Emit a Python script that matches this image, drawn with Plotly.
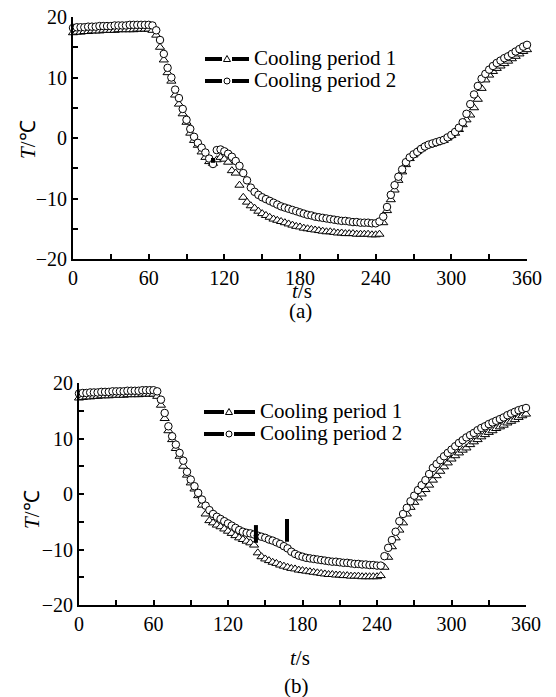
import plotly.graph_objects as go

t = list(range(0, 361, 3))

# Panel (a)
a_period1 = [17.4, 17.5, 17.5, 17.6, 17.6, 17.7, 17.7, 17.7, 17.8, 17.8,
             17.8, 17.8, 17.9, 17.9, 17.9, 17.9, 17.9, 18.0, 18.0, 18.0,
             18.0, 17.8, 17.0, 15.0, 12.9, 10.8, 9.4, 7.1, 5.6, 4.0,
             2.6, 0.8, -0.4, -1.2, -2.3, -3.2, -3.9, -4.2, -3.6, -3.2,
             -3.5, -4.0, -5.4, -5.8, -7.8, -9.8, -10.6, -11.2, -11.6, -12.1,
             -12.5, -12.8, -13.1, -13.4, -13.6, -13.8, -14.0, -14.2, -14.4, -14.6,
             -14.7, -14.9, -15.0, -15.1, -15.2, -15.3, -15.4, -15.5, -15.5, -15.6,
             -15.7, -15.7, -15.8, -15.8, -15.8, -15.9, -15.9, -15.9, -15.9, -16.0,
             -16.0, -15.9, -14.0, -12.0, -10.2, -8.6, -7.0, -5.6, -4.4, -3.4,
             -2.8, -2.2, -1.8, -1.4, -1.2, -1.0, -0.8, -0.6, -0.4, 0.0,
             0.4, 0.8, 1.4, 2.2, 3.0, 3.8, 5.0, 6.4, 8.2, 9.6,
             10.4, 11.0, 11.5, 11.9, 12.3, 12.7, 13.1, 13.5, 13.9, 14.3,
             14.6]
a_period2 = [18.2, 18.3, 18.3, 18.3, 18.4, 18.4, 18.4, 18.5, 18.5, 18.5,
             18.5, 18.6, 18.6, 18.6, 18.6, 18.7, 18.7, 18.7, 18.7, 18.7,
             18.7, 18.6, 17.8, 16.2, 13.9, 11.6, 10.0, 8.0, 6.6, 4.8,
             3.0, 1.5, 0.2, -0.8, -1.6, -2.4, -3.4, -4.3, -2.0, -1.9,
             -2.2, -2.6, -3.1, -3.8, -4.6, -5.8, -7.0, -8.2, -8.9, -9.4,
             -9.8, -10.1, -10.4, -10.7, -11.0, -11.3, -11.5, -11.7, -11.9, -12.1,
             -12.3, -12.5, -12.7, -12.8, -13.0, -13.1, -13.2, -13.3, -13.4, -13.5,
             -13.6, -13.7, -13.7, -13.8, -13.9, -13.9, -14.0, -14.0, -14.0, -14.1,
             -14.1, -13.8, -13.0, -11.4, -9.4, -7.8, -6.4, -5.2, -4.0, -3.2,
             -2.7, -2.3, -1.8, -1.4, -1.1, -0.9, -0.7, -0.5, -0.3, 0.1,
             0.5, 1.0, 1.7, 2.6, 4.0, 5.6, 7.2, 8.6, 9.8, 10.6,
             11.3, 11.9, 12.4, 12.8, 13.2, 13.5, 13.9, 14.3, 14.7, 15.1,
             15.4]

# Panel (b)
b_period1 = [17.3, 17.4, 17.5, 17.5, 17.6, 17.6, 17.7, 17.7, 17.7, 17.8,
             17.8, 17.8, 17.8, 17.9, 17.9, 17.9, 17.9, 18.0, 18.0, 18.0,
             18.0, 17.6, 16.0, 13.6, 11.4, 9.8, 8.2, 6.8, 5.0, 3.4,
             2.0, 0.9, -0.3, -2.0, -3.6, -4.8, -5.2, -5.6, -5.9, -6.3,
             -6.7, -7.1, -7.5, -7.9, -8.2, -8.5, -8.8, -9.2, -10.6, -11.3,
             -11.7, -12.0, -12.3, -12.5, -12.8, -13.0, -13.2, -13.4, -13.5, -13.7,
             -13.8, -13.9, -14.0, -14.1, -14.2, -14.3, -14.4, -14.5, -14.5, -14.6,
             -14.6, -14.7, -14.7, -14.8, -14.8, -14.8, -14.9, -14.9, -14.9, -14.9,
             -14.9, -14.7, -13.2, -11.4, -9.5, -7.9, -6.5, -5.2, -3.6, -2.4,
             -1.5, -0.7, 0.0, 0.8, 1.6, 2.5, 3.3, 4.1, 4.9, 5.6,
             6.3, 6.9, 7.4, 7.9, 8.3, 8.9, 9.4, 9.8, 10.3, 10.7,
             11.1, 11.4, 11.8, 12.1, 12.4, 12.8, 13.1, 13.4, 13.8, 14.1,
             14.4]
b_period2 = [18.1, 18.2, 18.2, 18.3, 18.3, 18.3, 18.4, 18.4, 18.4, 18.5,
             18.5, 18.5, 18.5, 18.6, 18.6, 18.6, 18.6, 18.7, 18.7, 18.7,
             18.7, 18.5, 17.0, 14.6, 12.2, 10.4, 8.9, 7.4, 6.0, 4.0,
             2.6, 1.4, 0.2, -1.0, -2.1, -2.9, -3.6, -4.1, -4.5, -4.9,
             -5.3, -5.7, -6.1, -6.5, -6.8, -7.0, -7.1, -7.3, -7.5, -7.7,
             -7.9, -8.2, -8.4, -8.7, -9.0, -9.4, -9.8, -10.4, -10.8, -11.1,
             -11.3, -11.5, -11.6, -11.7, -11.8, -11.9, -12.0, -12.1, -12.2, -12.2,
             -12.3, -12.4, -12.4, -12.5, -12.6, -12.6, -12.7, -12.7, -12.8, -12.8,
             -12.9, -12.9, -11.2, -9.7, -8.3, -6.8, -4.9, -3.6, -2.5, -1.3,
             -0.3, 0.7, 1.6, 2.5, 3.6, 4.7, 5.4, 6.1, 6.8, 7.4,
             8.0, 8.6, 9.2, 9.7, 10.2, 10.6, 11.0, 11.5, 11.9, 12.2,
             12.6, 12.9, 13.2, 13.5, 13.8, 14.2, 14.5, 14.8, 15.1, 15.3,
             15.5]

# small black artefact marks
a_mark_t = [111, 111]
a_mark_T = [-3.3, -4.1]
b_mark1_t = [142.5, 142.5]
b_mark1_T = [-5.6, -8.8]
b_mark2_t = [167.5, 167.5]
b_mark2_T = [-4.5, -8.6]

legend_names = ["Cooling period 1", "Cooling period 2"]
x_ticks = [0, 60, 120, 180, 240, 300, 360]
y_ticks = [-20, -10, 0, 10, 20]

FONT = "Liberation Serif"
W, H = 556, 697

fig = go.Figure()

cir = dict(symbol="circle", size=7.5, color="white", line=dict(width=1, color="black"))
tri_fill = dict(symbol="triangle-up", size=8, color="white", line=dict(width=1, color="black"))

for (xa, ya, s1, s2) in [("x", "y", a_period1, a_period2),
                         ("x2", "y2", b_period1, b_period2)]:
    fig.add_trace(go.Scatter(x=t, y=s1, mode="markers", marker=tri_fill, xaxis=xa, yaxis=ya,
                             name=legend_names[0], showlegend=False, cliponaxis=False))
    fig.add_trace(go.Scatter(x=t, y=s2, mode="markers", marker=cir, xaxis=xa, yaxis=ya,
                             name=legend_names[1], showlegend=False, cliponaxis=False))

for (xs, ys, xa, ya) in [(a_mark_t, a_mark_T, "x", "y"),
                         (b_mark1_t, b_mark1_T, "x2", "y2"),
                         (b_mark2_t, b_mark2_T, "x2", "y2")]:
    fig.add_trace(go.Scatter(x=xs, y=ys, mode="lines", line=dict(color="black", width=4),
                             xaxis=xa, yaxis=ya, showlegend=False))

axis_common = dict(showline=True, linecolor="black", linewidth=2, showgrid=False,
                   zeroline=False, ticks="inside", ticklen=5, tickwidth=1.5, tickcolor="black",
                   tickfont=dict(family=FONT, size=20, color="black"), mirror=False,
                   automargin=False)
minor_x = dict(dtick=30, ticks="inside", ticklen=5, tickwidth=1.5, tickcolor="black")
minor_y = dict(dtick=5, ticks="inside", ticklen=5, tickwidth=1.5, tickcolor="black")

fig.update_layout(
    width=W, height=H, autosize=False,
    margin=dict(l=0, r=0, t=0, b=0, pad=0, autoexpand=False),
    paper_bgcolor="white", plot_bgcolor="white",
    font=dict(family=FONT, color="black"),
    showlegend=False,
    xaxis=dict(domain=[73 / W, 527 / W], range=[0, 360], tickvals=x_ticks,
               minor=minor_x, anchor="y", **axis_common),
    yaxis=dict(domain=[1 - 259 / H, 1 - 17 / H], range=[-20, 20], tickvals=y_ticks,
               minor=minor_y, anchor="x", **axis_common),
    xaxis2=dict(domain=[79 / W, 526 / W], range=[0, 360], tickvals=x_ticks,
                minor=minor_x, anchor="y2", **axis_common),
    yaxis2=dict(domain=[1 - 605 / H, 1 - 383 / H], range=[-20, 20], tickvals=y_ticks,
                minor=minor_y, anchor="x2", **axis_common),
)

def px(x):
    return x / W

def py(y):
    return 1 - y / H

# Hand-drawn legend blocks: (line start x, marker x, line end x, text x, row y's)
legend_blocks = [
    (205, 227, 249, 252, [59, 81]),
    (204, 229, 255, 258, [412, 434]),
]
for (x0, xm, x1, xt, rows) in legend_blocks:
    for i, yr in enumerate(rows):
        fig.add_shape(type="line", xref="paper", yref="paper",
                      x0=px(x0), x1=px(xm - 5), y0=py(yr), y1=py(yr),
                      line=dict(color="black", width=4))
        fig.add_shape(type="line", xref="paper", yref="paper",
                      x0=px(xm + 5), x1=px(x1), y0=py(yr), y1=py(yr),
                      line=dict(color="black", width=4))
        if i == 0:
            fig.add_shape(type="path", xref="paper", yref="paper",
                          path=f"M {px(xm - 3.5)} {py(yr + 2.5)} L {px(xm + 3.5)} {py(yr + 2.5)} "
                               f"L {px(xm)} {py(yr - 3.5)} Z",
                          fillcolor="white", line=dict(color="black", width=1))
        else:
            fig.add_shape(type="circle", xref="paper", yref="paper",
                          x0=px(xm - 3), x1=px(xm + 3), y0=py(yr + 3), y1=py(yr - 3),
                          fillcolor="white", line=dict(color="black", width=1))
        fig.add_annotation(xref="paper", yref="paper", x=px(xt), y=py(yr - 1),
                           text=legend_names[i], showarrow=False, xanchor="left",
                           yanchor="middle", font=dict(family=FONT, size=21, color="black"))

ann_font = dict(family=FONT, size=21, color="black")
annotations = [
    dict(text="<i>T</i>/℃", x=28 / W, y=1 - 140 / H, textangle=-90),
    dict(text="<i>t</i>/s", x=302 / W, y=1 - 291 / H),
    dict(text="(a)", x=300 / W, y=1 - 311 / H),
    dict(text="<i>T</i>/℃", x=32 / W, y=1 - 510 / H, textangle=-90),
    dict(text="<i>t</i>/s", x=300 / W, y=1 - 658 / H),
    dict(text="(b)", x=296 / W, y=1 - 686 / H),
]
for a in annotations:
    fig.add_annotation(xref="paper", yref="paper", showarrow=False, font=ann_font,
                       xanchor="center", yanchor="middle", **a)

fig.write_html("out.html", config={"displayModeBar": False},
               post_script="document.body.style.margin='0';document.body.style.padding='0';")
